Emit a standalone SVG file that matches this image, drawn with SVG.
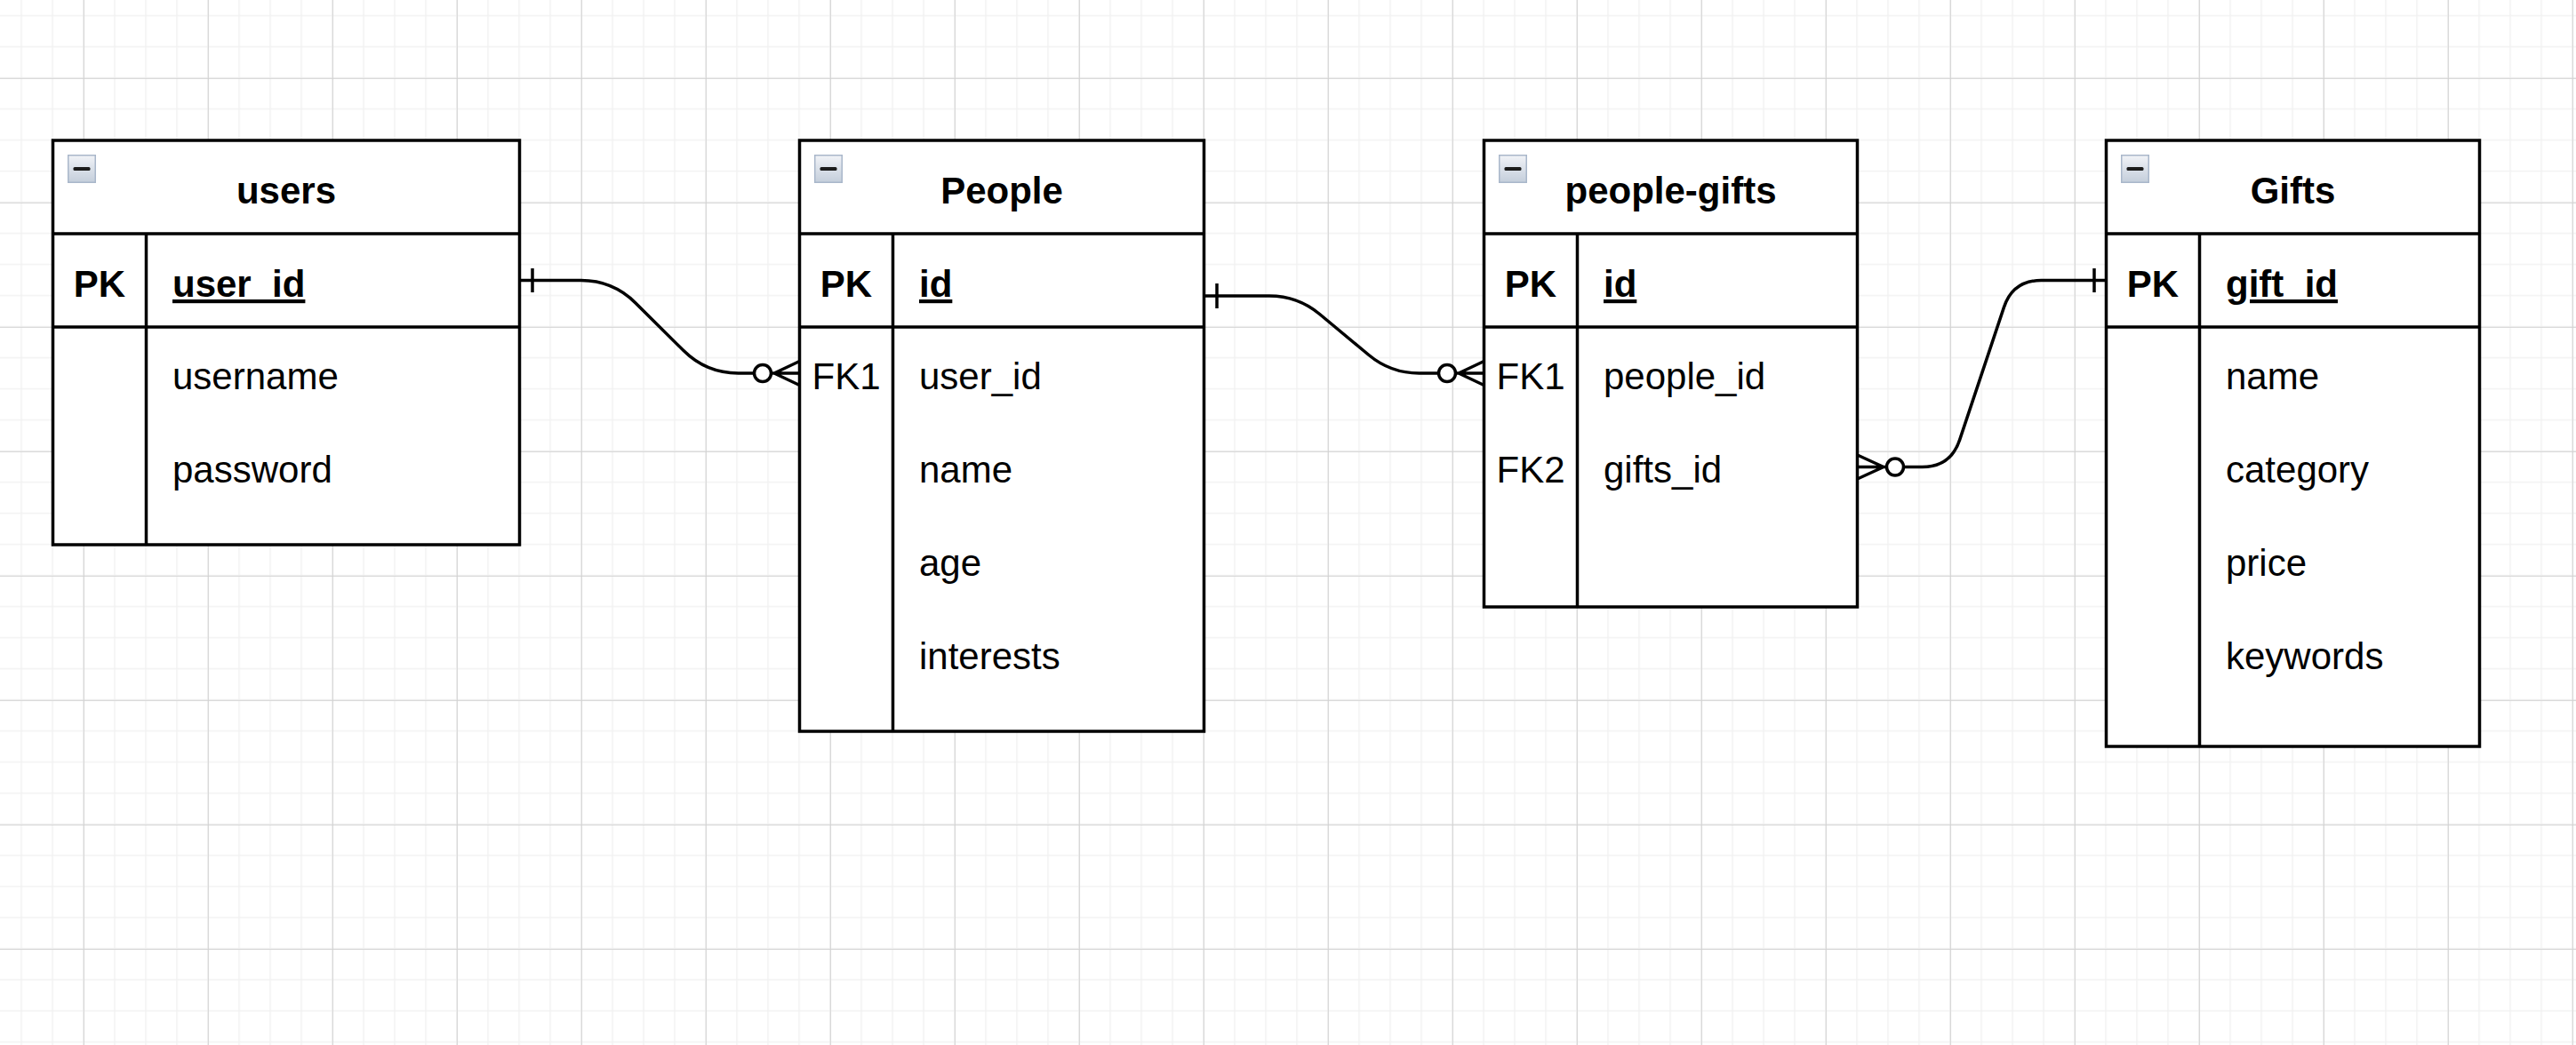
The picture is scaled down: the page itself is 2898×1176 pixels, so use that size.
<svg xmlns="http://www.w3.org/2000/svg" width="2898" height="1176" viewBox="0 0 2898 1176">
<defs>
<pattern id="gMinor" width="35" height="35" patternUnits="userSpaceOnUse" x="23.25" y="16.75">
<rect x="0" y="0" width="1.5" height="35" fill="#f2f2f2"/>
<rect x="0" y="0" width="35" height="1.5" fill="#f2f2f2"/>
</pattern>
<pattern id="gMajor" width="140" height="140" patternUnits="userSpaceOnUse" x="93.8" y="87.8">
<rect x="0" y="0" width="1" height="140" fill="#d2d2d2"/>
<rect x="0" y="0" width="140" height="1" fill="#d2d2d2"/>
</pattern>
<linearGradient id="iconGrad" x1="0" y1="0" x2="0" y2="1">
<stop offset="0" stop-color="#f1f3f7"/>
<stop offset="1" stop-color="#c4cedb"/>
</linearGradient>
<g id="icon">
<rect x="0.75" y="0.75" width="30.5" height="30.5" fill="url(#iconGrad)" stroke="#a9b7ca" stroke-width="1.5"/>
<rect x="6.5" y="14" width="19" height="4" rx="1.5" fill="#1c1c1c"/>
</g>
</defs>
<style>
.tbl{fill:#fff;stroke:#000;stroke-width:3.5}
.ln{stroke:#000;stroke-width:3.5;fill:none}
.h{font-family:"Liberation Sans",Arial,sans-serif;font-size:42px;font-weight:bold;text-anchor:middle;fill:#000}
.k{font-family:"Liberation Sans",Arial,sans-serif;font-size:42px;font-weight:bold;text-anchor:middle;fill:#000}
.fk{font-family:"Liberation Sans",Arial,sans-serif;font-size:42px;text-anchor:middle;fill:#000}
.f{font-family:"Liberation Sans",Arial,sans-serif;font-size:42px;fill:#000}
.pf{font-family:"Liberation Sans",Arial,sans-serif;font-size:42px;font-weight:bold;text-decoration:underline;fill:#000}
.edge{stroke:#000;stroke-width:3.5;fill:none;stroke-linejoin:round}
.circ{stroke:#000;stroke-width:3.5;fill:#fff}
</style>
<rect width="2898" height="1176" fill="#fff"/>
<rect width="2898" height="1176" fill="url(#gMinor)"/>
<rect width="2898" height="1176" fill="url(#gMajor)"/>

<g id="connectors">
<g id="users-people">
<path class="edge" d="M584.5,315.5 H653.5 Q689.5,315.5 715,340.9 L769,394.6 Q794.5,420 830.5,420 H848.5"/>
<path class="edge" d="M599,302 V329"/>
<circle class="circ" cx="858" cy="420" r="9.5"/>
<path class="edge" d="M899.5,406.5 L871,420 L899.5,433.5 M867.5,420 H899.5"/>
</g>
<g id="people-peoplegifts">
<path class="edge" d="M1354.5,333 H1428 Q1460,333 1484.6,353.5 L1539.9,399.5 Q1564.5,420 1596.5,420 H1618.5"/>
<path class="edge" d="M1369,319 V347"/>
<circle class="circ" cx="1628" cy="420" r="9.5"/>
<path class="edge" d="M1669.5,406.5 L1641,420 L1669.5,433.5 M1637.5,420 H1669.5"/>
</g>
<g id="peoplegifts-gifts">
<path class="edge" d="M2141.5,525.5 H2162.5 Q2194.5,525.5 2204.6,495.1 L2254.4,345.9 Q2264.5,315.5 2296.5,315.5 H2369.5"/>
<path class="edge" d="M2356,302 V329"/>
<circle class="circ" cx="2132" cy="525.5" r="9.5"/>
<path class="edge" d="M2089.5,512 L2119,525.5 L2089.5,539 M2089.5,525.5 H2122.5"/>
</g>
</g>

<g id="users">
<rect class="tbl" x="59.5" y="158" width="525" height="455"/>
<path class="ln" d="M59.5,263 H584.5 M59.5,368 H584.5 M164.5,263 V613"/>
<use href="#icon" x="76" y="174"/>
<text class="h" x="322" y="228.5">users</text>
<text class="k" x="112" y="334">PK</text>
<text class="pf" x="194" y="334">user_id</text>
<text class="f" x="194" y="438">username</text>
<text class="f" x="194" y="543">password</text>
</g>

<g id="people">
<rect class="tbl" x="899.5" y="158" width="455" height="665"/>
<path class="ln" d="M899.5,263 H1354.5 M899.5,368 H1354.5 M1004.5,263 V823"/>
<use href="#icon" x="916" y="174"/>
<text class="h" x="1127" y="228.5">People</text>
<text class="k" x="952" y="334">PK</text>
<text class="pf" x="1034" y="334">id</text>
<text class="fk" x="952" y="438">FK1</text>
<text class="f" x="1034" y="438">user_id</text>
<text class="f" x="1034" y="543">name</text>
<text class="f" x="1034" y="648">age</text>
<text class="f" x="1034" y="753">interests</text>
</g>

<g id="people-gifts">
<rect class="tbl" x="1669.5" y="158" width="420" height="525"/>
<path class="ln" d="M1669.5,263 H2089.5 M1669.5,368 H2089.5 M1774.5,263 V683"/>
<use href="#icon" x="1686" y="174"/>
<text class="h" x="1879.5" y="228.5">people-gifts</text>
<text class="k" x="1722" y="334">PK</text>
<text class="pf" x="1804" y="334">id</text>
<text class="fk" x="1722" y="438">FK1</text>
<text class="f" x="1804" y="438">people_id</text>
<text class="fk" x="1722" y="543">FK2</text>
<text class="f" x="1804" y="543">gifts_id</text>
</g>

<g id="gifts">
<rect class="tbl" x="2369.5" y="158" width="420" height="682"/>
<path class="ln" d="M2369.5,263 H2789.5 M2369.5,368 H2789.5 M2474.5,263 V840"/>
<use href="#icon" x="2386" y="174"/>
<text class="h" x="2579.5" y="228.5">Gifts</text>
<text class="k" x="2422" y="334">PK</text>
<text class="pf" x="2504" y="334">gift_id</text>
<text class="f" x="2504" y="438">name</text>
<text class="f" x="2504" y="543">category</text>
<text class="f" x="2504" y="648">price</text>
<text class="f" x="2504" y="753">keywords</text>
</g>
</svg>
